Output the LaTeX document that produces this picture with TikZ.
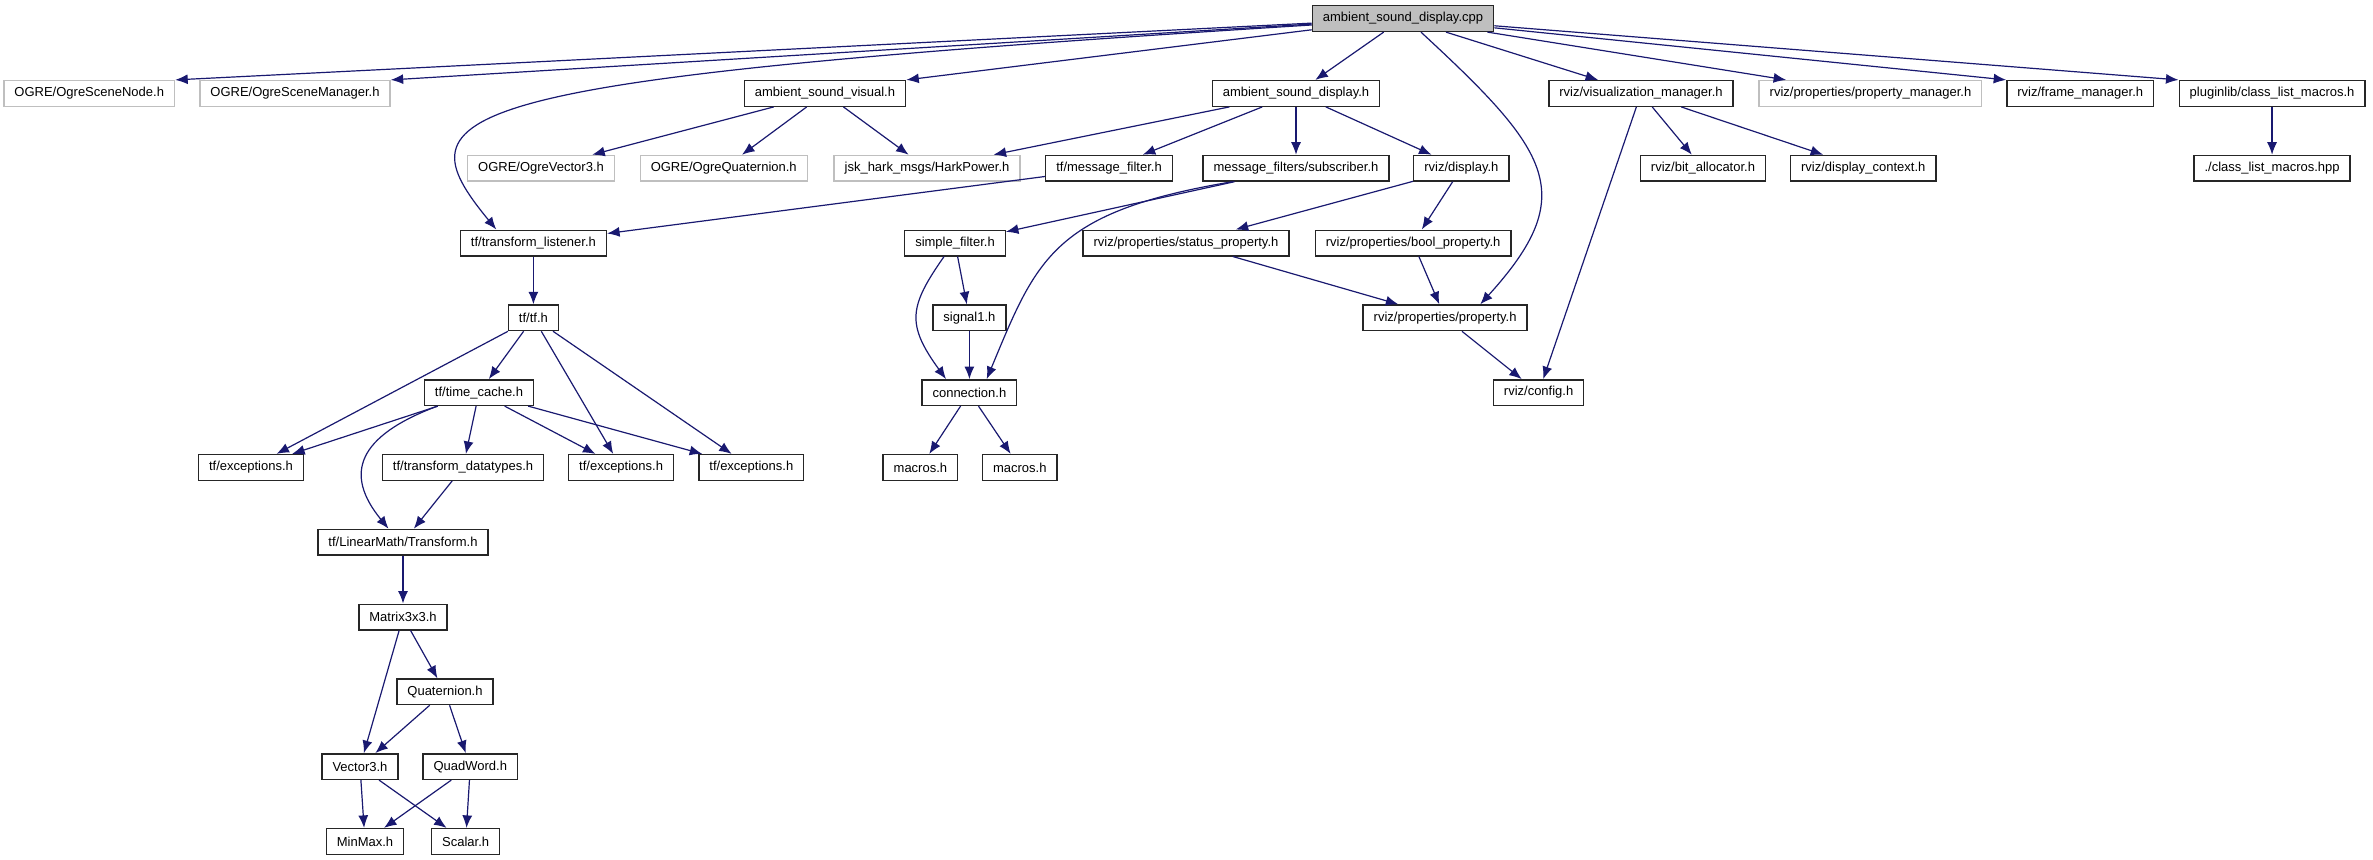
\documentclass[tikz,border=0pt]{standalone}
\usepackage{fontspec}
\setmainfont{Liberation Sans}
\usetikzlibrary{arrows.meta, positioning}
\definecolor{grey75}{HTML}{BFBFBF}
\definecolor{midnight}{HTML}{191970}

\begin{document}
\begin{tikzpicture}[
  hdr/.style={draw=black!85, line width=1.4pt, minimum height=25.6pt, inner xsep=10.5pt, inner ysep=0pt, font=\fontsize{13pt}{15pt}\selectfont},
  ext/.style={hdr, draw=grey75},
  root/.style={hdr, fill=grey75},
  link/.style={-{Latex[length=12.5pt, width=10pt]}, draw=midnight, line width=1.2pt}
]
\useasboundingbox (0,0) rectangle (2373pt,-859pt);

\node[root] (cpp) at (1403pt,-18.6pt) {ambient\_sound\_display.cpp};

\node[hdr, below=47.8pt of cpp, xshift=-578pt] (visual) {ambient\_sound\_visual.h};
\node[ext, left=353pt of visual] (scenemgr) {OGRE/OgreSceneManager.h};
\node[ext, left=24pt of scenemgr] (scenenode) {OGRE/OgreSceneNode.h};
\node[hdr, below=47.8pt of cpp, xshift=-107pt] (disph) {ambient\_sound\_display.h};
\node[hdr, below=47.8pt of cpp, xshift=238pt] (vismgr) {rviz/visualization\_manager.h};
\node[ext, right=24.6pt of vismgr] (propmgr) {rviz/properties/property\_manager.h};
\node[hdr, right=23.7pt of propmgr] (framemgr) {rviz/frame\_manager.h};
\node[hdr, right=24.2pt of framemgr] (pluginlib) {pluginlib/class\_list\_macros.h};

\node[ext, below=47.8pt of visual, xshift=102pt] (harkpower) {jsk\_hark\_msgs/HarkPower.h};
\node[ext, below=47.8pt of visual, xshift=-284pt] (ogrevec) {OGRE/OgreVector3.h};
\node[ext, right=24.5pt of ogrevec] (ogrequat) {OGRE/OgreQuaternion.h};
\node[hdr, right=24.5pt of harkpower] (msgfilter) {tf/message\_filter.h};
\node[hdr, below=47.8pt of disph] (subscriber) {message\_filters/subscriber.h};
\node[hdr, right=23.5pt of subscriber] (display) {rviz/display.h};
\node[hdr, below=47.8pt of vismgr, xshift=62pt] (bitalloc) {rviz/bit\_allocator.h};
\node[hdr, right=23.7pt of bitalloc] (dispctx) {rviz/display\_context.h};
\node[hdr, below=47.8pt of pluginlib] (classhpp) {./class\_list\_macros.hpp};

\node[hdr, below=47.8pt of ogrevec, xshift=-7.6pt] (listener) {tf/transform\_listener.h};
\node[hdr, below=47.8pt of harkpower, xshift=28pt] (simplefilter) {simple\_filter.h};
\node[hdr, right=76.5pt of simplefilter] (statusprop) {rviz/properties/status\_property.h};
\node[hdr, right=25pt of statusprop] (boolprop) {rviz/properties/bool\_property.h};

\node[hdr, below=47.8pt of listener] (tf) {tf/tf.h};
\node[hdr, below=47.8pt of simplefilter, xshift=14.4pt] (signal) {signal1.h};
\node[hdr, below=47.8pt of boolprop, xshift=32pt] (property) {rviz/properties/property.h};

\node[hdr, below=47.8pt of tf, xshift=-54.4pt] (timecache) {tf/time\_cache.h};
\node[hdr, below=47.8pt of signal] (connection) {connection.h};
\node[hdr, below=47.8pt of property, xshift=93.5pt] (config) {rviz/config.h};

\node[hdr, below=47.8pt of timecache, xshift=-228pt] (exc1) {tf/exceptions.h};
\node[hdr, below=47.8pt of timecache, xshift=-16pt] (datatypes) {tf/transform\_datatypes.h};
\node[hdr, right=23.7pt of datatypes] (exc2) {tf/exceptions.h};
\node[hdr, right=24pt of exc2] (exc3) {tf/exceptions.h};
\node[hdr, below=47.8pt of connection, xshift=-49pt] (macros1) {macros.h};
\node[hdr, right=23.5pt of macros1] (macros2) {macros.h};

\node[hdr, below=47.8pt of datatypes, xshift=-60pt] (transform) {tf/LinearMath/Transform.h};
\node[hdr, below=47.8pt of transform] (matrix) {Matrix3x3.h};
\node[hdr, below=47.8pt of matrix, xshift=42pt] (quaternion) {Quaternion.h};
\node[hdr, below=47.8pt of quaternion, xshift=-85pt] (vector3) {Vector3.h};
\node[hdr, right=23.7pt of vector3] (quadword) {QuadWord.h};
\node[hdr, below=47.8pt of vector3, xshift=5pt] (minmax) {MinMax.h};
\node[hdr, right=26.6pt of minmax] (scalar) {Scalar.h};

\draw[link] (cpp) -- (scenenode.north east);
\draw[link] (cpp) -- (scenemgr.north east);
\draw[link] (cpp) -- (visual.north east);
\draw[link] (cpp) -- (disph);
\draw[link] (cpp) -- (vismgr);
\draw[link] (cpp) -- (propmgr);
\draw[link] (cpp) -- (framemgr.north west);
\draw[link] (cpp) -- (pluginlib.north west);
\draw[link] (cpp.184) .. controls +(-882pt,-55pt) and +(-97.7pt,119pt) .. (listener.160);
\draw[link] (cpp.323) .. controls +(130pt,-120pt) and +(100pt,110pt) .. (property.21);

\draw[link] (visual) -- (ogrevec);
\draw[link] (visual) -- (ogrequat);
\draw[link] (visual) -- (harkpower);
\draw[link] (disph) -- (harkpower);
\draw[link] (disph) -- (msgfilter);
\draw[link] (disph) -- (subscriber);
\draw[link] (disph) -- (display);
\draw[link] (vismgr) -- (bitalloc);
\draw[link] (vismgr) -- (dispctx);
\draw[link] (vismgr) -- (config);
\draw[link] (pluginlib) -- (classhpp);

\draw[link] (msgfilter) -- (listener);
\draw[link] (subscriber) -- (simplefilter);
\draw[link] (subscriber.192) .. controls +(-180pt,-30pt) and +(50pt,120pt) .. (connection.38);
\draw[link] (display) -- (statusprop);
\draw[link] (display) -- (boolprop);

\draw[link] (listener) -- (tf);
\draw[link] (simplefilter) -- (signal);
\draw[link] (simplefilter.231) .. controls +(-35pt,-50pt) and +(-40pt,55pt) .. (connection.150);
\draw[link] (statusprop) -- (property);
\draw[link] (boolprop) -- (property);

\draw[link] (tf) -- (exc1);
\draw[link] (tf) -- (timecache);
\draw[link] (tf) -- (exc2);
\draw[link] (tf) -- (exc3);
\draw[link] (signal) -- (connection);
\draw[link] (property) -- (config);

\draw[link] (timecache) -- (exc1);
\draw[link] (timecache) -- (datatypes);
\draw[link] (timecache) -- (exc2);
\draw[link] (timecache) -- (exc3);
\draw[link] (timecache.198) .. controls +(-80pt,-30pt) and +(-45pt,55pt) .. (transform.137);
\draw[link] (connection) -- (macros1);
\draw[link] (connection) -- (macros2);

\draw[link] (datatypes) -- (transform);
\draw[link] (transform) -- (matrix);
\draw[link] (matrix) -- (vector3);
\draw[link] (matrix) -- (quaternion);
\draw[link] (quaternion) -- (vector3);
\draw[link] (quaternion) -- (quadword);
\draw[link] (vector3) -- (minmax);
\draw[link] (vector3) -- (scalar);
\draw[link] (quadword) -- (minmax);
\draw[link] (quadword) -- (scalar);
\end{tikzpicture}
\end{document}
